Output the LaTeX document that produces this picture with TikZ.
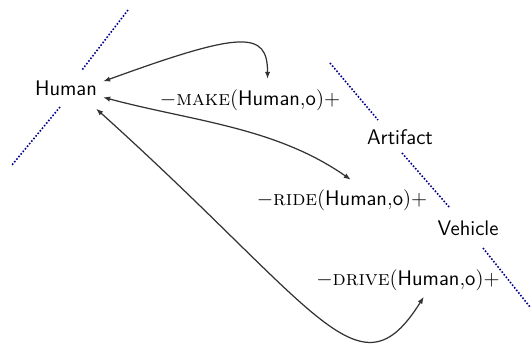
\documentclass[tikz,border=0pt]{standalone}
\usetikzlibrary{arrows.meta}
\begin{document}
\begin{tikzpicture}[x=0.02cm, y=-0.02cm, >={Latex[length=4pt,width=3pt]},
  word/.style={font=\large\sffamily},
  rel/.style={font=\large},
  divider/.style={draw=blue!55!black, densely dotted, line width=0.9pt},
  link/.style={<->, black!80, line width=0.7pt}]
\useasboundingbox (0,0) rectangle (532,346);
% concepts
\node[word] (human) at (66,88) {Human};
\node[word] (artifact) at (400,137) {Artifact};
\node[word] (vehicle) at (468,228) {Vehicle};
% relations
\node[rel] (make) at (250,100) {$-$\textsc{make}(\textsf{Human},\textsf{o})$+$};
\node[rel] (ride) at (342,200) {$-$\textsc{ride}(\textsf{Human},\textsf{o})$+$};
\node[rel] (drive) at (408,280) {$-$\textsc{drive}(\textsf{Human},\textsf{o})$+$};
% dividers
\draw[divider] (128,10) -- (82,70) (60,107) -- (12,165);
\draw[divider] (330,63) -- (378,120) (402,153) -- (450,208) (483,248) -- (530,307);
% links
\draw[link] (human.10) to [out=20, in=90, out looseness=2.3, in looseness=0.75] ([xshift=10pt,yshift=2.5pt]make.north);
\draw[link] (human.-14) to [out=-15, in=145, looseness=0.9] ([xshift=5pt,yshift=2pt]ride.north);
\draw[link] ([xshift=-4pt,yshift=-4pt]human.south east) to [out=-42, in=238, out looseness=2.04, in looseness=0.83] ([xshift=9pt]drive.south);
\end{tikzpicture}
\end{document}
